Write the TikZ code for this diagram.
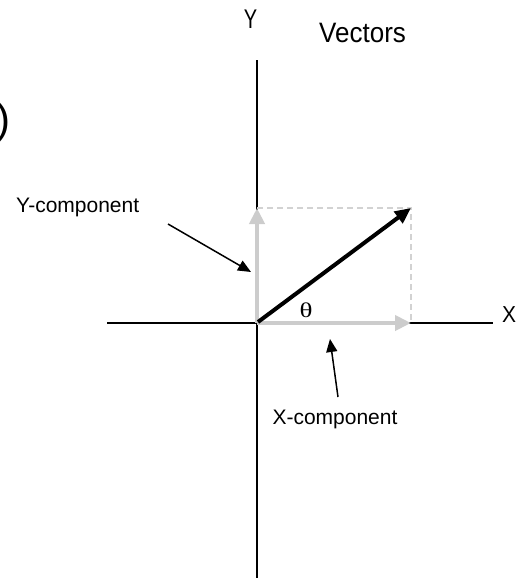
\documentclass[tikz,border=0pt]{standalone}
\usepackage{fontspec}
\usepackage{graphicx}
\setmainfont{Liberation Sans}
\newfontfamily\thetafont{Liberation Serif}
\usetikzlibrary{arrows.meta}
\tikzset{
  axis/.style={line width=1.5pt,black},
  guide/.style={line width=1.2pt,gray!35,dash pattern=on 6pt off 4pt},
  comp/.style={line width=4.5pt,gray!40,-{Triangle[length=16pt,width=15pt]}},
  vec/.style={line width=4pt,black,-{Triangle[length=16pt,width=14pt]}},
  pointer/.style={line width=1.5pt,black,-{Triangle[length=13pt,width=11pt]}},
  lbl/.style={font=\fontsize{21}{24}\selectfont,inner sep=0pt}
}
\begin{document}
\begin{tikzpicture}[x=1pt,y=-1pt]
\useasboundingbox (0,0) rectangle (526,582);
\coordinate (O) at (257,323);
\coordinate (Ytop) at (257,60);
\coordinate (Ybot) at (257,578);
\coordinate (Xl) at (107,323);
\coordinate (Xr) at (493,323);
\coordinate (P) at (411,208);
\coordinate (Px) at (411,323);
\coordinate (Py) at (257,208);
\draw[axis] (Ytop) -- (Ybot);
\draw[axis] (Xl) -- (Xr);
\draw[guide] (Py) -- (P) -- (Px);
\draw[comp] (O) -- (Px);
\draw[comp] (O) -- (Py);
\draw[vec] ([shift={(1,-1)}]O) -- (P);
\node[lbl,anchor=base west] (xlab) at (502,322) {\scalebox{1}[1.1]{X}};
\node[lbl,font=\fontsize{20}{24}\selectfont,anchor=base] (ylab) at (250.5,28) {\scalebox{1}[1.35]{Y}};
\node[lbl,font=\fontsize{26}{30}\selectfont,anchor=base west] (title) at (319,42) {\scalebox{1}[1.08]{Vectors}};
\node[lbl,anchor=base,font=\thetafont\fontsize{20}{24}\selectfont] (theta) at (306,317) {\scalebox{1.35}[1.05]{θ}};
\node[lbl,anchor=base west] (ycomp) at (16,212) {Y-component};
\node[lbl,anchor=base] (xcomp) at (335,424) {X-component};
\coordinate (ya) at (168,224);
\coordinate (yb) at (251,272);
\coordinate (xa) at (338,397);
\coordinate (xb) at (330,339);
\draw[pointer] (ya) -- (yb);
\draw[pointer] (xa) -- (xb);
\node[inner sep=0pt,anchor=base east,font=\fontsize{42}{46}\selectfont] (paren) at (11,133) {)};
\end{tikzpicture}
\end{document}
